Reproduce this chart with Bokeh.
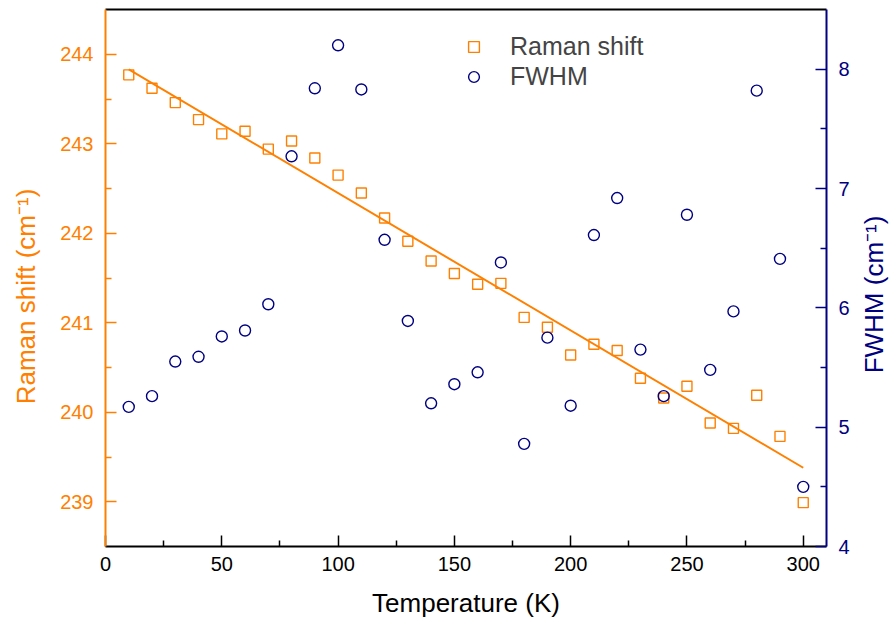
import math
from bokeh.plotting import figure
from bokeh.models import Range1d, LinearAxis, FixedTicker, Legend, LegendItem, Label
from bokeh.embed import file_html
from bokeh.resources import INLINE

# ---- data ----
temperature = [10, 20, 30, 40, 50, 60, 70, 80, 90, 100,
               110, 120, 130, 140, 150, 160, 170, 180, 190, 200,
               210, 220, 230, 240, 250, 260, 270, 280, 290, 300]
raman_shift = [243.77, 243.62, 243.46, 243.27, 243.11, 243.14, 242.94, 243.03, 242.84, 242.65,
               242.45, 242.17, 241.91, 241.69, 241.55, 241.43, 241.44, 241.06, 240.95, 240.64,
               240.76, 240.69, 240.38, 240.16, 240.29, 239.88, 239.82, 240.19, 239.73, 238.99]
fwhm = [5.17, 5.26, 5.55, 5.59, 5.76, 5.81, 6.03, 7.27, 7.84, 8.20,
        7.83, 6.57, 5.89, 5.20, 5.36, 5.46, 6.38, 4.86, 5.75, 5.18,
        6.61, 6.92, 5.65, 5.26, 6.78, 5.48, 5.97, 7.82, 6.41, 4.50]
fit_temperature = [10, 300]
fit_raman = [243.83, 239.38]

x_ticks = [0, 50, 100, 150, 200, 250, 300]
x_minor = [25, 75, 125, 175, 225, 275]
left_ticks = [239, 240, 241, 242, 243, 244]
left_minor = [239.5, 240.5, 241.5, 242.5, 243.5]
right_ticks = [4, 5, 6, 7, 8]
right_minor = [4.5, 5.5, 6.5, 7.5]

ORANGE = "#FF8000"
NAVY = "#000080"
FONT = "Liberation Sans"

p = figure(width=893, height=624,
           x_range=Range1d(0, 310), y_range=Range1d(238.5, 244.5),
           output_backend="svg", toolbar_location=None,
           x_axis_location=None, y_axis_location=None,
           min_border_left=105, min_border_right=67,
           min_border_top=9, min_border_bottom=78)
p.extra_y_ranges = {"fwhm": Range1d(4, 8.5)}
p.xgrid.visible = False
p.ygrid.visible = False
p.outline_line_color = None
p.background_fill_color = "white"
p.border_fill_color = "white"


def style_axis(ax, color, label_standoff, axis_label_standoff):
    ax.axis_line_color = color
    ax.axis_line_width = 2
    ax.major_tick_line_color = color
    ax.minor_tick_line_color = color
    ax.major_tick_line_width = 1.5
    ax.minor_tick_line_width = 1.5
    ax.major_tick_in = 11
    ax.major_tick_out = 0
    ax.minor_tick_in = 6
    ax.minor_tick_out = 0
    ax.major_label_text_color = color
    ax.major_label_text_font = FONT
    ax.major_label_text_font_size = "20px"
    ax.major_label_standoff = label_standoff
    ax.axis_label_text_color = color
    ax.axis_label_text_font = FONT
    ax.axis_label_text_font_size = "26px"
    ax.axis_label_text_font_style = "normal"
    ax.axis_label_standoff = axis_label_standoff


xaxis = LinearAxis(ticker=FixedTicker(ticks=x_ticks, minor_ticks=x_minor),
                   axis_label="Temperature (K)")
style_axis(xaxis, "black", 10, 14)
p.add_layout(xaxis, "below")

top_axis = LinearAxis(ticker=FixedTicker(ticks=[]), major_tick_in=0, major_tick_out=0,
                      minor_tick_in=0, minor_tick_out=0, axis_line_color="black",
                      axis_line_width=2, major_label_text_font_size="0px")
p.add_layout(top_axis, "above")

left_axis = LinearAxis(ticker=FixedTicker(ticks=left_ticks, minor_ticks=left_minor))
style_axis(left_axis, ORANGE, 12, 16)
p.add_layout(left_axis, "left")

right_axis = LinearAxis(y_range_name="fwhm",
                        ticker=FixedTicker(ticks=right_ticks, minor_ticks=right_minor))
style_axis(right_axis, NAVY, 12, 9)
p.add_layout(right_axis, "right")

# axis titles as side-panel labels, both reading bottom-to-top like the reference
left_title = Label(x=-2, y=250, x_units="screen", y_units="screen",
                   text="Raman shift (cm\u207b\u00b9)", angle=math.pi / 2,
                   text_align="center", text_baseline="middle",
                   text_color=ORANGE, text_font=FONT, text_font_size="26px")
p.add_layout(left_title, "left")

right_title = Label(x=21, y=252, x_units="screen", y_units="screen",
                    text="FWHM (cm\u207b\u00b9)", angle=math.pi / 2,
                    text_align="center", text_baseline="middle",
                    text_color=NAVY, text_font=FONT, text_font_size="26px")
p.add_layout(right_title, "right")

sq = p.scatter(temperature, raman_shift, marker="square", size=10,
               line_color=ORANGE, fill_color=None, line_width=1.4)
p.line(fit_temperature, fit_raman, line_color=ORANGE, line_width=2)
ci = p.scatter(temperature, fwhm, marker="circle", size=11, y_range_name="fwhm",
               line_color=NAVY, fill_color=None, line_width=1.4)

legend = Legend(items=[LegendItem(label="Raman shift", renderers=[sq]),
                       LegendItem(label="FWHM", renderers=[ci])],
                location=(355, 455), border_line_color=None, background_fill_alpha=0,
                label_text_font=FONT, label_text_font_size="25px",
                glyph_width=27, glyph_height=27, label_standoff=23,
                padding=10, spacing=1, margin=0)
p.add_layout(legend)

open("out.html", "w").write(file_html(p, INLINE))
